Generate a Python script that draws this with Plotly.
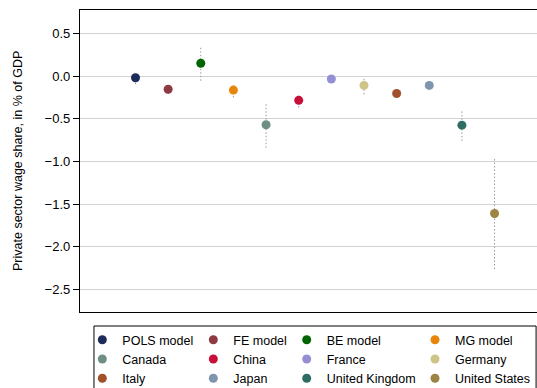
import plotly.graph_objects as go

# Estimated effect on the private sector wage share (% of GDP), with confidence bands
labels = ["POLS model", "FE model", "BE model", "MG model",
          "Canada", "China", "France", "Germany",
          "Italy", "Japan", "United Kingdom", "United States"]
estimate = [-0.02, -0.155, 0.15, -0.165, -0.57, -0.285,
            -0.035, -0.11, -0.205, -0.11, -0.575, -1.61]
ci_low = [-0.095, -0.21, -0.055, -0.25, -0.84, -0.37,
          -0.07, -0.215, -0.24, -0.15, -0.76, -2.26]
ci_high = [0.02, -0.10, 0.35, -0.09, -0.33, -0.21,
           0.0, -0.01, -0.17, -0.08, -0.40, -0.97]
colors = ["#1c2b5a", "#8e3a42", "#006400", "#e8860c",
          "#6e8f81", "#c80f3a", "#948fd4", "#cdc486",
          "#a0522d", "#7e95ad", "#2d6d63", "#9c8444"]
yticks = [0.5, 0.0, -0.5, -1.0, -1.5, -2.0, -2.5]
ytitle = "Private sector wage share, in % of GDP"

FONT = "Liberation Sans, Arial, sans-serif"
fig = go.Figure()

positions = list(range(1, len(labels) + 1))

# dotted confidence intervals
for xpos, lo, hi in zip(positions, ci_low, ci_high):
    fig.add_trace(go.Scatter(
        x=[xpos, xpos], y=[lo, hi], mode="lines",
        line=dict(color="#9a9a9a", width=1, dash="1.5px,2px"),
        showlegend=False, hoverinfo="skip"))

# point estimates, legend split into four columns
legend_ids = ["legend", "legend2", "legend3", "legend4"]
for i, (xpos, val, name, col) in enumerate(zip(positions, estimate, labels, colors)):
    fig.add_trace(go.Scatter(
        x=[xpos], y=[val], mode="markers", name=name,
        marker=dict(color=col, size=9, line=dict(width=0)),
        legend=legend_ids[i % 4]))

legend_x = [0.1533, 0.3600, 0.5339, 0.7728]
legend_common = dict(y=0.162, yanchor="top", xanchor="left",
                     xref="container", yref="container",
                     orientation="v", bgcolor="rgba(0,0,0,0)",
                     borderwidth=0, tracegroupgap=0,
                     font=dict(family=FONT, size=12.5, color="#000"),
                     itemsizing="trace")
layout_legends = {lid: dict(x=lx, **legend_common)
                  for lid, lx in zip(legend_ids, legend_x)}

fig.update_layout(
    width=537, height=388,
    margin=dict(l=80, r=0, t=10, b=76, autoexpand=False),
    paper_bgcolor="white", plot_bgcolor="white",
    font=dict(family=FONT, size=12.5, color="#000"),
    showlegend=True,
    xaxis=dict(range=[-0.7, 13.3], showticklabels=False, ticks="",
               showgrid=False, zeroline=False,
               showline=True, linecolor="#000", linewidth=1.3, mirror=True),
    yaxis=dict(range=[-2.763, 0.773], tickvals=yticks,
               ticktext=[f"{v:.1f}".replace("-", "\u2212") for v in yticks],
               ticks="outside", ticklen=6, tickcolor="#000", tickwidth=1,
               tickfont=dict(family=FONT, size=13, color="#000"),
               showgrid=True, gridcolor="#d2d2d2", gridwidth=1.3,
               zeroline=False, showline=True, linecolor="#000", linewidth=1.3),
    annotations=[dict(text=ytitle, textangle=-90, showarrow=False,
                      xref="paper", yref="paper", x=-0.1357, y=0.5,
                      xanchor="center", yanchor="middle",
                      font=dict(family=FONT, size=12.5, color="#000"))],
    shapes=[dict(type="rect", xref="paper", yref="paper",
                 x0=0.0306, x1=0.998, y0=-0.0464, y1=-0.30,
                 line=dict(color="#000", width=1))],
    **layout_legends,
)

fig.write_html("out.html")
